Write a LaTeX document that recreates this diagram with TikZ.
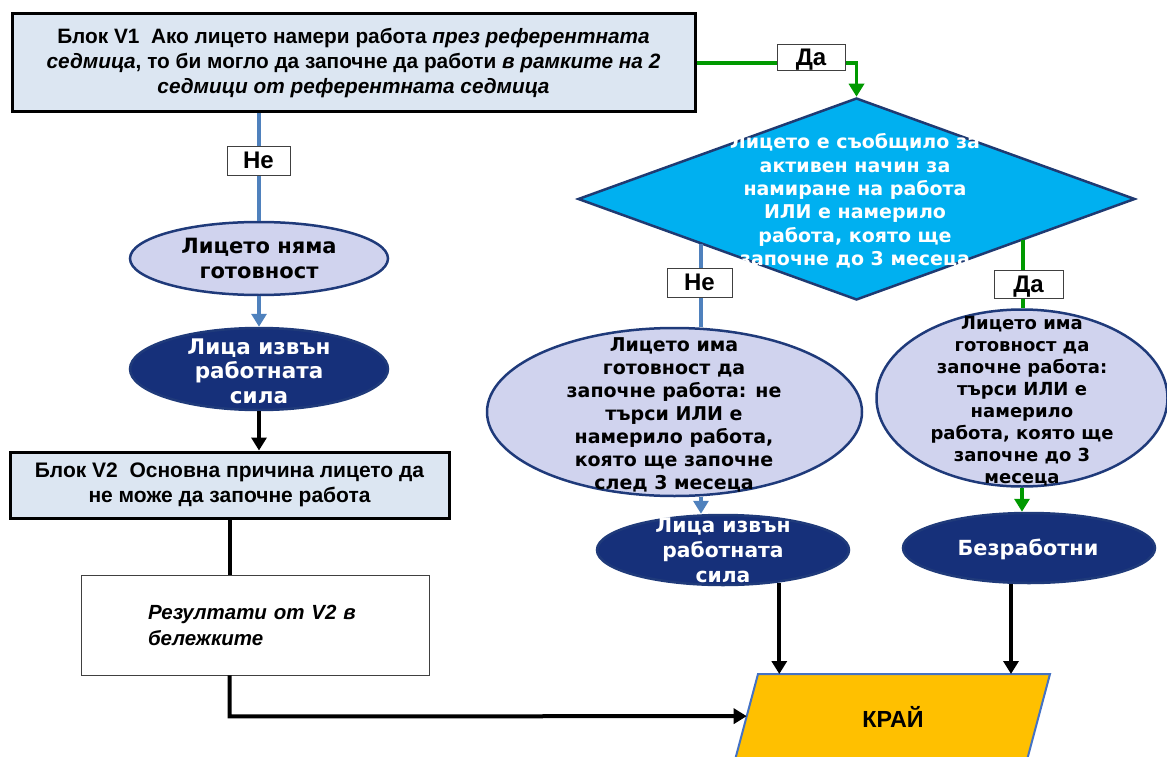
\documentclass[tikz,border=0pt]{standalone}
\usepackage{fontspec}
\setmainfont{Liberation Sans}
\newfontfamily\dv{DejaVu Sans}
\usetikzlibrary{shapes.geometric,arrows.meta,calc}
\definecolor{boxfill}{HTML}{DCE6F2}
\definecolor{grn}{HTML}{009900}
\definecolor{bln}{HTML}{4F81BD}
\definecolor{cyanf}{HTML}{00B0F0}
\definecolor{dnavy}{HTML}{1F3A72}
\definecolor{lav}{HTML}{D0D3EE}
\definecolor{ellb}{HTML}{1F3A7A}
\definecolor{navy}{HTML}{16307A}
\definecolor{gold}{HTML}{FFC000}
\definecolor{kb}{HTML}{4472C4}
\tikzset{
  box/.style={draw=black, line width=3pt, fill=boxfill, inner sep=0pt, align=center,
    font=\bfseries\fontsize{20.8}{25}\selectfont},
  resbox/.style={draw=black!75, line width=0.8pt, fill=white, inner sep=0pt, align=left,
    font=\bfseries\itshape\fontsize{20.5}{26}\selectfont},
  lbl/.style={draw=black!75, line width=0.8pt, fill=white, inner sep=0pt, text depth=0pt,
    font=\bfseries\fontsize{24}{26}\selectfont},
  ell/.style={ellipse, draw=ellb, line width=2.5pt, inner sep=0pt},
  light/.style={ell, fill=lav},
  dark/.style={ell, fill=navy},
  etxt/.style={font=\dv\bfseries\fontsize{19}{23}\selectfont, align=center, inner sep=0pt},
  wtxt/.style={etxt, text=white},
  blk/.style={line width=4pt, draw=black},
  bline/.style={line width=4pt, draw=bln},
  gline/.style={line width=3.5pt, draw=grn},
  arr/.style={-{Triangle[width=15pt,length=13pt]}},
}
\begin{document}
\begin{tikzpicture}[x=1pt,y=-1pt]
\useasboundingbox (0,0) rectangle (1167,757);

% nodes
\node[box, minimum width=683, minimum height=98] (v1) at (353.5,63)
  {Блок V1~~Ако лицето намери работа \textit{през референтната}\\
   \textit{седмица}, то би могло да започне да работи \textit{в рамките на 2}\\
   \textit{седмици от референтната седмица}};

\node[diamond, draw=dnavy, line width=2.5pt, fill=cyanf, minimum width=557,
  minimum height=202, inner sep=0pt] (d) at (856.5,199) {};
\node[wtxt, font=\dv\bfseries\fontsize{19}{23.4}\selectfont] (dt) at (855,201) {Лицето е съобщило за\\активен начин за\\намиране на работа\\ИЛИ е намерило\\работа, която ще\\започне до 3 месеца};

\node[light, minimum width=258, minimum height=73] (e1) at (259,258.5) {};
\node[etxt, font=\dv\bfseries\fontsize{21}{25}\selectfont] at (259,258) {Лицето няма\\готовност};

\node[dark, minimum width=258, minimum height=82] (e2) at (259,369) {};
\node[wtxt, font=\dv\bfseries\fontsize{21.5}{24.5}\selectfont] at (259,371) {Лица извън\\работната\\сила};

\node[box, minimum width=439, minimum height=66, font=\bfseries\fontsize{21}{24.5}\selectfont] (v2) at (229.5,485)
  {Блок V2~~Основна причина лицето да\\не може да започне работа};

\node[resbox, minimum width=348, minimum height=100, text width=214] (res) at (255,625)
  {Резултати от V2 в\\бележките};

\node[light, minimum width=375, minimum height=168] (e3) at (674.5,412) {};
\node[etxt] at (674,415) {Лицето има\\готовност да\\започне работа: не\\търси ИЛИ е\\намерило работа,\\която ще започне\\след 3 месеца};

\node[dark, minimum width=252, minimum height=70] (e4) at (723,550) {};
\node[wtxt, font=\dv\bfseries\fontsize{20.3}{25}\selectfont] at (723,550) {Лица извън\\работната\\сила};

\node[light, minimum width=291, minimum height=177] (e5) at (1022,398) {};
\node[etxt, font=\dv\bfseries\fontsize{18}{22}\selectfont] at (1022,401) {Лицето има\\готовност да\\започне работа:\\търси ИЛИ е\\намерило\\работа, която ще\\започне до 3\\месеца};

\node[dark, minimum width=252, minimum height=70] (e6) at (1029,548) {};
\node[wtxt, font=\dv\bfseries\fontsize{20.8}{24}\selectfont] at (1028,549) {Безработни};

% end parallelogram
\coordinate (ktl) at (758,674);
\coordinate (ktr) at (1050,674);
\coordinate (kbr) at (1027,760);
\coordinate (kbl) at (735,760);
\draw[draw=kb, line width=2pt, fill=gold] (ktl) -- (ktr) -- (kbr) -- (kbl) -- cycle;
\node[font=\bfseries\fontsize{23.3}{26}\selectfont, inner sep=0pt] (kraj) at (893,717) {КРАЙ};
\coordinate (kl) at ($(ktl)!0.49!(kbl)$);

% points on diamond edges
\coordinate (p) at ($(d.west)!0.444!(d.south)$);
\coordinate (q) at ($(d.south)!0.596!(d.east)$);

% connectors
\draw[gline, arr] (v1.east) -- (v1.east -| d.north) -- (d.north);
\draw[bline] (e1.north |- v1.south) -- (e1.north);
\draw[bline, arr] (e1.south) -- (e2.north);
\draw[blk, arr] (e2.south) -- (e2.south |- v2.north);
\draw[blk] (v2.south) -- (v2.south |- res.north);
\draw[blk, arr] (v2.south |- res.south) -- ++(0,41) -- (kl);

\draw[bline] (p) -- (p |- e3.north);
\draw[bline, arr] (p |- e3.south) -- (p |- e4.north);
\draw[blk, arr] (e4.-30) -- (e4.-30 |- ktl);

\draw[gline] (q) -- (q |- e5.north);
\draw[gline, arr] (e5.south) -- (e5.south |- e6.north);
\draw[blk, arr] ([xshift=-18pt]e6.south) -- ([xshift=-18pt]e6.south |- ktl);

% labels
\node[lbl, minimum width=68, minimum height=26] (l1) at (811,57) {Да};
\node[lbl, minimum width=63, minimum height=29] (l2) at (258.5,160.5) {Не};
\node[lbl, minimum width=65, minimum height=29] (l3) at (699.5,282.5) {Не};
\node[lbl, minimum width=69, minimum height=28] (l4) at (1028.5,284) {Да};
\end{tikzpicture}
\end{document}
